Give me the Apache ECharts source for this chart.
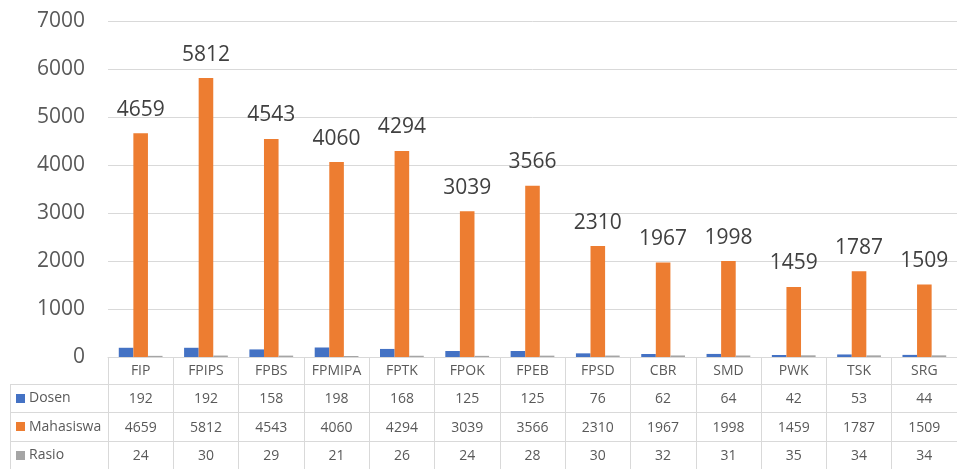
<!DOCTYPE html>
<html>
<head>
<meta charset="utf-8">
<script src="https://cdn.jsdelivr.net/npm/echarts@6/dist/echarts.min.js"></script>
<style>
  html, body { margin: 0; padding: 0; background: #ffffff; }
  #chart { width: 957px; height: 469px; }
</style>
</head>
<body>
<div id="chart"></div>
<script>
// Faculty / campus codes
const categories = ['FIP', 'FPIPS', 'FPBS', 'FPMIPA', 'FPTK', 'FPOK', 'FPEB', 'FPSD', 'CBR', 'SMD', 'PWK', 'TSK', 'SRG'];
// Lecturers per unit
const dosen = [192, 192, 158, 198, 168, 125, 125, 76, 62, 64, 42, 53, 44];
// Students per unit
const mahasiswa = [4659, 5812, 4543, 4060, 4294, 3039, 3566, 2310, 1967, 1998, 1459, 1787, 1509];
// Student to lecturer ratio
const rasio = [24, 30, 29, 21, 26, 24, 28, 30, 32, 31, 35, 34, 34];
// Value axis ticks
const yTicks = [0, 1000, 2000, 3000, 4000, 5000, 6000, 7000];

const seriesNames = ['Dosen', 'Mahasiswa', 'Rasio'];
const seriesColors = ['#4472C4', '#ED7D31', '#A5A5A5'];
const rows = [dosen, mahasiswa, rasio];

// Layout of plot and data table
const FONT = '"Open Sans", "Liberation Sans", sans-serif';
const TEXT = '#595959';
const LINE = '#d9d9d9';
const gridLeft = 108;
const gridTop = 21;
const gridWidth = 852;
const gridHeight = 336;
const rowH = 28.5;
const tableLeft = 10;

const chart = echarts.init(document.getElementById('chart'), null, { renderer: 'canvas' });

const xAxes = [{
  type: 'category',
  data: categories,
  gridIndex: 0,
  position: 'bottom',
  axisLine: { show: true, lineStyle: { color: LINE, width: 1 } },
  axisTick: { show: true, alignWithLabel: false, length: rowH * 4 + 2, lineStyle: { color: LINE, width: 1 } },
  axisLabel: { fontFamily: FONT, fontSize: 14, color: TEXT, margin: 7 },
  splitLine: { show: false }
}];
rows.forEach((vals, k) => {
  xAxes.push({
    type: 'category',
    data: categories,
    gridIndex: 0,
    position: 'bottom',
    offset: rowH * (k + 1),
    axisLine: { show: false },
    axisTick: { show: false },
    axisLabel: {
      fontFamily: FONT, fontSize: 14, color: TEXT, margin: 7,
      formatter: (v, i) => String(vals[i])
    },
    splitLine: { show: false }
  });
});

// Table borders and row headers
const graphics = [];
const tableRight = gridLeft + gridWidth;
const headerBottom = gridTop + gridHeight + rowH * 0.94;
for (let k = 0; k < 4; k++) {
  const y = Math.round(headerBottom + rowH * k) + 0.5;
  graphics.push({
    type: 'line', silent: true,
    shape: { x1: tableLeft, y1: y, x2: tableRight, y2: y },
    style: { stroke: LINE, lineWidth: 1 }
  });
}
graphics.push({
  type: 'line', silent: true,
  shape: { x1: tableLeft + 0.5, y1: Math.round(headerBottom), x2: tableLeft + 0.5, y2: 480 },
  style: { stroke: LINE, lineWidth: 1 }
});
seriesNames.forEach((name, k) => {
  const cy = headerBottom + rowH * k + rowH / 2;
  graphics.push({
    type: 'rect', silent: true,
    shape: { x: 16, y: Math.round(cy - 4.5), width: 9, height: 9 },
    style: { fill: seriesColors[k] }
  });
  graphics.push({
    type: 'text', silent: true,
    x: 29, y: cy,
    style: { text: name, fontFamily: FONT, fontSize: 14, fill: TEXT, verticalAlign: 'middle', align: 'left' }
  });
});

const option = {
  backgroundColor: '#ffffff',
  animation: false,
  grid: { left: gridLeft, top: gridTop, width: gridWidth, height: gridHeight, containLabel: false },
  xAxis: xAxes,
  yAxis: {
    type: 'value',
    min: yTicks[0],
    max: yTicks[yTicks.length - 1],
    interval: 1000,
    axisLine: { show: false },
    axisTick: { show: false },
    axisLabel: { fontFamily: FONT, fontSize: 21, color: TEXT, margin: 23, formatter: v => String(v) },
    splitLine: { show: true, lineStyle: { color: LINE, width: 1 } }
  },
  series: [
    {
      name: 'Dosen', type: 'bar', data: dosen,
      itemStyle: { color: seriesColors[0] },
      barGap: '0%', barCategoryGap: '33%'
    },
    {
      name: 'Mahasiswa', type: 'bar', data: mahasiswa,
      itemStyle: { color: seriesColors[1] },
      barGap: '0%', barCategoryGap: '33%',
      label: {
        show: true, position: 'top', distance: 13,
        fontFamily: FONT, fontSize: 21, color: '#404040'
      }
    },
    {
      name: 'Rasio', type: 'bar', data: rasio,
      itemStyle: { color: seriesColors[2] },
      barGap: '0%', barCategoryGap: '33%'
    }
  ],
  graphic: graphics
};

chart.setOption(option);
</script>
</body>
</html>
